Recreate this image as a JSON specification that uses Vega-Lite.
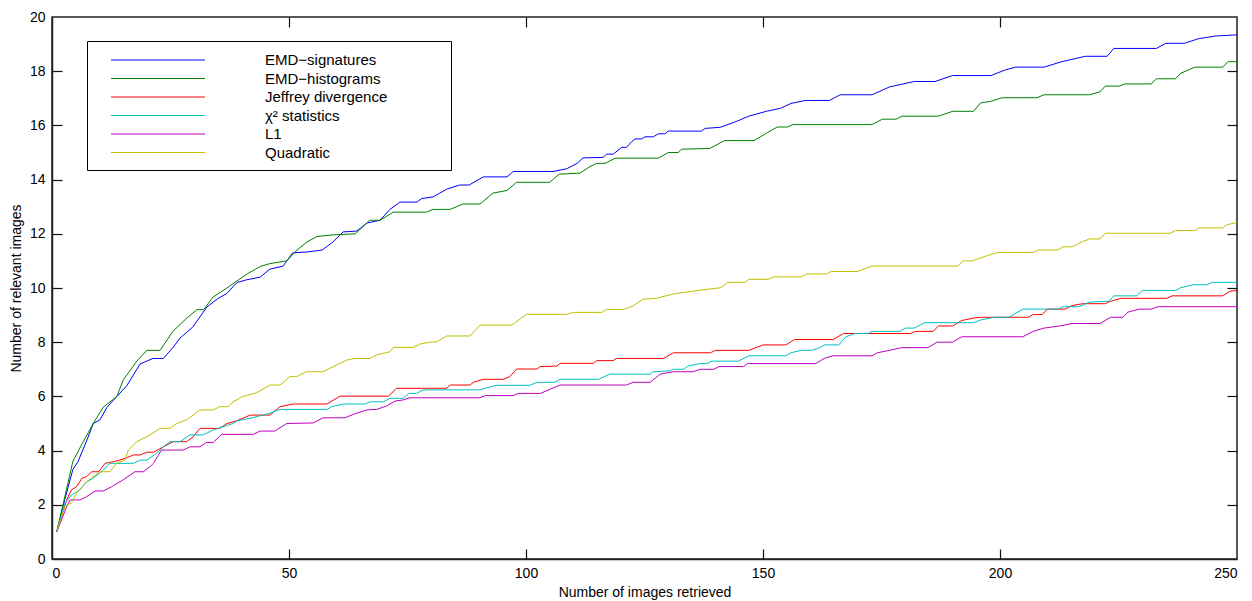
{
  "$schema": "https://vega.github.io/schema/vega-lite/v6.json",
  "width": 1185,
  "height": 542,
  "autosize": {"type": "none"},
  "padding": {"left": 52, "top": 17, "right": 15, "bottom": 42},
  "background": "white",
  "config": {
    "view": {"stroke": "#222222", "strokeWidth": 1.5},
    "font": "Liberation Sans",
    "axis": {"grid": false, "domainColor": "#222222", "domainWidth": 1.5, "tickColor": "#111111", "labelColor": "black", "titleColor": "black", "labelFont": "Liberation Sans", "titleFont": "Liberation Sans", "labelFontSize": 14, "titleFontSize": 14, "titleFontWeight": "normal", "zindex": 1}
  },
  "data": {"values": [
    {"s":"EMD−signatures","x":1,"y":1},{"s":"EMD−signatures","x":2.7,"y":2.2},{"s":"EMD−signatures","x":4.4,"y":3.3},{"s":"EMD−signatures","x":5.5,"y":3.6},{"s":"EMD−signatures","x":7.4,"y":4.4},{"s":"EMD−signatures","x":8.7,"y":5.0},{"s":"EMD−signatures","x":10.1,"y":5.13},{"s":"EMD−signatures","x":11.6,"y":5.6},{"s":"EMD−signatures","x":13.7,"y":6.0},{"s":"EMD−signatures","x":15.8,"y":6.4},{"s":"EMD−signatures","x":18.6,"y":7.2},{"s":"EMD−signatures","x":21.3,"y":7.4},{"s":"EMD−signatures","x":23.5,"y":7.4},{"s":"EMD−signatures","x":25.5,"y":7.8},{"s":"EMD−signatures","x":27,"y":8.15},{"s":"EMD−signatures","x":29.7,"y":8.56},{"s":"EMD−signatures","x":32.7,"y":9.3},{"s":"EMD−signatures","x":34.9,"y":9.6},{"s":"EMD−signatures","x":36.9,"y":9.8},{"s":"EMD−signatures","x":39,"y":10.2},{"s":"EMD−signatures","x":41,"y":10.3},{"s":"EMD−signatures","x":43.9,"y":10.4},{"s":"EMD−signatures","x":46,"y":10.7},{"s":"EMD−signatures","x":48.7,"y":10.8},{"s":"EMD−signatures","x":50.8,"y":11.3},{"s":"EMD−signatures","x":53.8,"y":11.33},{"s":"EMD−signatures","x":57,"y":11.4},{"s":"EMD−signatures","x":59.3,"y":11.7},{"s":"EMD−signatures","x":61.4,"y":12.07},{"s":"EMD−signatures","x":64.3,"y":12.1},{"s":"EMD−signatures","x":66.5,"y":12.4},{"s":"EMD−signatures","x":69.2,"y":12.5},{"s":"EMD−signatures","x":71.3,"y":12.9},{"s":"EMD−signatures","x":73.4,"y":13.17},{"s":"EMD−signatures","x":77,"y":13.17},{"s":"EMD−signatures","x":78,"y":13.3},{"s":"EMD−signatures","x":80.4,"y":13.36},{"s":"EMD−signatures","x":83.3,"y":13.65},{"s":"EMD−signatures","x":86,"y":13.8},{"s":"EMD−signatures","x":88,"y":13.8},{"s":"EMD−signatures","x":91,"y":14.1},{"s":"EMD−signatures","x":96,"y":14.1},{"s":"EMD−signatures","x":97.3,"y":14.3},{"s":"EMD−signatures","x":105.7,"y":14.3},{"s":"EMD−signatures","x":108.6,"y":14.4},{"s":"EMD−signatures","x":110.8,"y":14.6},{"s":"EMD−signatures","x":112,"y":14.8},{"s":"EMD−signatures","x":116.3,"y":14.82},{"s":"EMD−signatures","x":117,"y":14.94},{"s":"EMD−signatures","x":118.4,"y":14.94},{"s":"EMD−signatures","x":120.2,"y":15.19},{"s":"EMD−signatures","x":121.2,"y":15.19},{"s":"EMD−signatures","x":122.3,"y":15.4},{"s":"EMD−signatures","x":123,"y":15.5},{"s":"EMD−signatures","x":124.4,"y":15.5},{"s":"EMD−signatures","x":125.1,"y":15.58},{"s":"EMD−signatures","x":126.9,"y":15.58},{"s":"EMD−signatures","x":127.9,"y":15.69},{"s":"EMD−signatures","x":129.3,"y":15.69},{"s":"EMD−signatures","x":130,"y":15.79},{"s":"EMD−signatures","x":137,"y":15.79},{"s":"EMD−signatures","x":137.8,"y":15.89},{"s":"EMD−signatures","x":141,"y":15.93},{"s":"EMD−signatures","x":144,"y":16.12},{"s":"EMD−signatures","x":147,"y":16.34},{"s":"EMD−signatures","x":150.7,"y":16.52},{"s":"EMD−signatures","x":153.7,"y":16.63},{"s":"EMD−signatures","x":155.9,"y":16.81},{"s":"EMD−signatures","x":158.9,"y":16.92},{"s":"EMD−signatures","x":164,"y":16.92},{"s":"EMD−signatures","x":166.3,"y":17.13},{"s":"EMD−signatures","x":173,"y":17.13},{"s":"EMD−signatures","x":176.7,"y":17.42},{"s":"EMD−signatures","x":181.9,"y":17.62},{"s":"EMD−signatures","x":186.3,"y":17.62},{"s":"EMD−signatures","x":190,"y":17.84},{"s":"EMD−signatures","x":198.1,"y":17.84},{"s":"EMD−signatures","x":201,"y":18.04},{"s":"EMD−signatures","x":203.3,"y":18.15},{"s":"EMD−signatures","x":209.3,"y":18.15},{"s":"EMD−signatures","x":213,"y":18.35},{"s":"EMD−signatures","x":218,"y":18.55},{"s":"EMD−signatures","x":222.6,"y":18.55},{"s":"EMD−signatures","x":224,"y":18.84},{"s":"EMD−signatures","x":233,"y":18.84},{"s":"EMD−signatures","x":235,"y":19.03},{"s":"EMD−signatures","x":238.9,"y":19.03},{"s":"EMD−signatures","x":241.9,"y":19.2},{"s":"EMD−signatures","x":245.6,"y":19.3},{"s":"EMD−signatures","x":250,"y":19.34},

    {"s":"EMD−histograms","x":1,"y":1},{"s":"EMD−histograms","x":2.7,"y":2.3},{"s":"EMD−histograms","x":4.4,"y":3.6},{"s":"EMD−histograms","x":6.5,"y":4.3},{"s":"EMD−histograms","x":8.7,"y":5.0},{"s":"EMD−histograms","x":10.8,"y":5.6},{"s":"EMD−histograms","x":13.7,"y":6.0},{"s":"EMD−histograms","x":15,"y":6.6},{"s":"EMD−histograms","x":17.9,"y":7.3},{"s":"EMD−histograms","x":20,"y":7.7},{"s":"EMD−histograms","x":22.8,"y":7.7},{"s":"EMD−histograms","x":25.5,"y":8.4},{"s":"EMD−histograms","x":28.5,"y":8.9},{"s":"EMD−histograms","x":30.6,"y":9.2},{"s":"EMD−histograms","x":32,"y":9.2},{"s":"EMD−histograms","x":34,"y":9.67},{"s":"EMD−histograms","x":36.9,"y":10.0},{"s":"EMD−histograms","x":41,"y":10.5},{"s":"EMD−histograms","x":44,"y":10.8},{"s":"EMD−histograms","x":46,"y":10.9},{"s":"EMD−histograms","x":49.5,"y":11.0},{"s":"EMD−histograms","x":51.7,"y":11.4},{"s":"EMD−histograms","x":53.8,"y":11.7},{"s":"EMD−histograms","x":55.9,"y":11.9},{"s":"EMD−histograms","x":59.3,"y":11.96},{"s":"EMD−histograms","x":64,"y":12.0},{"s":"EMD−histograms","x":67,"y":12.5},{"s":"EMD−histograms","x":69.2,"y":12.5},{"s":"EMD−histograms","x":72,"y":12.8},{"s":"EMD−histograms","x":79,"y":12.8},{"s":"EMD−histograms","x":80.4,"y":12.9},{"s":"EMD−histograms","x":84,"y":12.9},{"s":"EMD−histograms","x":86.7,"y":13.1},{"s":"EMD−histograms","x":90.3,"y":13.1},{"s":"EMD−histograms","x":93,"y":13.5},{"s":"EMD−histograms","x":96,"y":13.6},{"s":"EMD−histograms","x":98,"y":13.9},{"s":"EMD−histograms","x":105,"y":13.9},{"s":"EMD−histograms","x":107,"y":14.2},{"s":"EMD−histograms","x":111.4,"y":14.24},{"s":"EMD−histograms","x":113.5,"y":14.48},{"s":"EMD−histograms","x":114.9,"y":14.6},{"s":"EMD−histograms","x":116.7,"y":14.6},{"s":"EMD−histograms","x":118.8,"y":14.79},{"s":"EMD−histograms","x":127.9,"y":14.79},{"s":"EMD−histograms","x":130,"y":15.0},{"s":"EMD−histograms","x":132.1,"y":15.0},{"s":"EMD−histograms","x":132.8,"y":15.12},{"s":"EMD−histograms","x":138.8,"y":15.15},{"s":"EMD−histograms","x":141.9,"y":15.44},{"s":"EMD−histograms","x":148.1,"y":15.44},{"s":"EMD−histograms","x":151.1,"y":15.75},{"s":"EMD−histograms","x":153,"y":15.94},{"s":"EMD−histograms","x":155.2,"y":15.94},{"s":"EMD−histograms","x":156.3,"y":16.03},{"s":"EMD−histograms","x":173,"y":16.03},{"s":"EMD−histograms","x":175.2,"y":16.23},{"s":"EMD−histograms","x":178.1,"y":16.23},{"s":"EMD−histograms","x":179.3,"y":16.34},{"s":"EMD−histograms","x":187,"y":16.34},{"s":"EMD−histograms","x":190,"y":16.52},{"s":"EMD−histograms","x":194.4,"y":16.52},{"s":"EMD−histograms","x":195.9,"y":16.83},{"s":"EMD−histograms","x":198.1,"y":16.89},{"s":"EMD−histograms","x":200.4,"y":17.02},{"s":"EMD−histograms","x":207.8,"y":17.02},{"s":"EMD−histograms","x":209.3,"y":17.13},{"s":"EMD−histograms","x":218.9,"y":17.13},{"s":"EMD−histograms","x":221.1,"y":17.24},{"s":"EMD−histograms","x":222.2,"y":17.45},{"s":"EMD−histograms","x":225.2,"y":17.45},{"s":"EMD−histograms","x":226.3,"y":17.53},{"s":"EMD−histograms","x":231.9,"y":17.53},{"s":"EMD−histograms","x":233,"y":17.72},{"s":"EMD−histograms","x":237,"y":17.72},{"s":"EMD−histograms","x":238.1,"y":17.92},{"s":"EMD−histograms","x":241.1,"y":18.15},{"s":"EMD−histograms","x":247,"y":18.15},{"s":"EMD−histograms","x":248.1,"y":18.35},{"s":"EMD−histograms","x":250,"y":18.35},

    {"s":"Jeffrey divergence","x":1,"y":1},{"s":"Jeffrey divergence","x":3.1,"y":2.18},{"s":"Jeffrey divergence","x":4.1,"y":2.55},{"s":"Jeffrey divergence","x":5.2,"y":2.67},{"s":"Jeffrey divergence","x":6.3,"y":2.98},{"s":"Jeffrey divergence","x":7.3,"y":3.04},{"s":"Jeffrey divergence","x":8.4,"y":3.22},{"s":"Jeffrey divergence","x":9.8,"y":3.22},{"s":"Jeffrey divergence","x":11.2,"y":3.53},{"s":"Jeffrey divergence","x":12.9,"y":3.59},{"s":"Jeffrey divergence","x":14.3,"y":3.65},{"s":"Jeffrey divergence","x":15.8,"y":3.74},{"s":"Jeffrey divergence","x":17.2,"y":3.84},{"s":"Jeffrey divergence","x":18.6,"y":3.84},{"s":"Jeffrey divergence","x":20,"y":3.94},{"s":"Jeffrey divergence","x":21.4,"y":3.94},{"s":"Jeffrey divergence","x":23.5,"y":4.14},{"s":"Jeffrey divergence","x":25.6,"y":4.33},{"s":"Jeffrey divergence","x":28.4,"y":4.33},{"s":"Jeffrey divergence","x":29.8,"y":4.51},{"s":"Jeffrey divergence","x":31.2,"y":4.82},{"s":"Jeffrey divergence","x":35.4,"y":4.82},{"s":"Jeffrey divergence","x":36.9,"y":5.0},{"s":"Jeffrey divergence","x":39,"y":5.1},{"s":"Jeffrey divergence","x":41.8,"y":5.31},{"s":"Jeffrey divergence","x":46,"y":5.31},{"s":"Jeffrey divergence","x":48.1,"y":5.62},{"s":"Jeffrey divergence","x":50.9,"y":5.72},{"s":"Jeffrey divergence","x":58,"y":5.72},{"s":"Jeffrey divergence","x":60.8,"y":6.01},{"s":"Jeffrey divergence","x":71,"y":6.01},{"s":"Jeffrey divergence","x":72.7,"y":6.3},{"s":"Jeffrey divergence","x":83.3,"y":6.3},{"s":"Jeffrey divergence","x":84,"y":6.42},{"s":"Jeffrey divergence","x":88.2,"y":6.42},{"s":"Jeffrey divergence","x":88.9,"y":6.52},{"s":"Jeffrey divergence","x":91,"y":6.63},{"s":"Jeffrey divergence","x":95.2,"y":6.63},{"s":"Jeffrey divergence","x":96.6,"y":6.73},{"s":"Jeffrey divergence","x":98,"y":7.01},{"s":"Jeffrey divergence","x":102.3,"y":7.01},{"s":"Jeffrey divergence","x":103,"y":7.1},{"s":"Jeffrey divergence","x":106.5,"y":7.12},{"s":"Jeffrey divergence","x":107.2,"y":7.22},{"s":"Jeffrey divergence","x":114.2,"y":7.22},{"s":"Jeffrey divergence","x":114.9,"y":7.32},{"s":"Jeffrey divergence","x":118.4,"y":7.32},{"s":"Jeffrey divergence","x":119.1,"y":7.4},{"s":"Jeffrey divergence","x":129,"y":7.4},{"s":"Jeffrey divergence","x":131.1,"y":7.61},{"s":"Jeffrey divergence","x":138.9,"y":7.61},{"s":"Jeffrey divergence","x":140,"y":7.7},{"s":"Jeffrey divergence","x":147,"y":7.7},{"s":"Jeffrey divergence","x":148.5,"y":7.8},{"s":"Jeffrey divergence","x":150,"y":7.9},{"s":"Jeffrey divergence","x":154.8,"y":7.9},{"s":"Jeffrey divergence","x":156.7,"y":8.1},{"s":"Jeffrey divergence","x":164.8,"y":8.1},{"s":"Jeffrey divergence","x":167,"y":8.32},{"s":"Jeffrey divergence","x":181.1,"y":8.32},{"s":"Jeffrey divergence","x":182.2,"y":8.4},{"s":"Jeffrey divergence","x":185.9,"y":8.4},{"s":"Jeffrey divergence","x":187,"y":8.6},{"s":"Jeffrey divergence","x":190,"y":8.6},{"s":"Jeffrey divergence","x":191.9,"y":8.8},{"s":"Jeffrey divergence","x":194.4,"y":8.89},{"s":"Jeffrey divergence","x":195.9,"y":8.92},{"s":"Jeffrey divergence","x":205.9,"y":8.92},{"s":"Jeffrey divergence","x":207,"y":9.02},{"s":"Jeffrey divergence","x":208.9,"y":9.02},{"s":"Jeffrey divergence","x":210,"y":9.22},{"s":"Jeffrey divergence","x":213.7,"y":9.22},{"s":"Jeffrey divergence","x":215.2,"y":9.35},{"s":"Jeffrey divergence","x":217.4,"y":9.42},{"s":"Jeffrey divergence","x":222.2,"y":9.42},{"s":"Jeffrey divergence","x":223.3,"y":9.51},{"s":"Jeffrey divergence","x":225.6,"y":9.62},{"s":"Jeffrey divergence","x":235.2,"y":9.62},{"s":"Jeffrey divergence","x":236.3,"y":9.71},{"s":"Jeffrey divergence","x":247,"y":9.71},{"s":"Jeffrey divergence","x":248.5,"y":9.88},{"s":"Jeffrey divergence","x":250,"y":9.91},

    {"s":"χ² statistics","x":1,"y":1},{"s":"χ² statistics","x":2.7,"y":2.05},{"s":"χ² statistics","x":4.1,"y":2.36},{"s":"χ² statistics","x":5.9,"y":2.55},{"s":"χ² statistics","x":7.3,"y":2.85},{"s":"χ² statistics","x":8.7,"y":2.98},{"s":"χ² statistics","x":10.8,"y":3.28},{"s":"χ² statistics","x":12.2,"y":3.53},{"s":"χ² statistics","x":17.2,"y":3.53},{"s":"χ² statistics","x":18.6,"y":3.65},{"s":"χ² statistics","x":20,"y":3.65},{"s":"χ² statistics","x":22.1,"y":3.9},{"s":"χ² statistics","x":23.5,"y":4.14},{"s":"χ² statistics","x":24.9,"y":4.33},{"s":"χ² statistics","x":27,"y":4.33},{"s":"χ² statistics","x":29.1,"y":4.58},{"s":"χ² statistics","x":31.9,"y":4.58},{"s":"χ² statistics","x":34,"y":4.76},{"s":"χ² statistics","x":36.1,"y":4.88},{"s":"χ² statistics","x":38.2,"y":5.0},{"s":"χ² statistics","x":39,"y":5.1},{"s":"χ² statistics","x":41.8,"y":5.19},{"s":"χ² statistics","x":46,"y":5.38},{"s":"χ² statistics","x":48.1,"y":5.52},{"s":"χ² statistics","x":58,"y":5.52},{"s":"χ² statistics","x":59,"y":5.62},{"s":"χ² statistics","x":61.5,"y":5.72},{"s":"χ² statistics","x":66,"y":5.72},{"s":"χ² statistics","x":67.1,"y":5.8},{"s":"χ² statistics","x":69.9,"y":5.8},{"s":"χ² statistics","x":71.3,"y":5.93},{"s":"χ² statistics","x":74.1,"y":5.93},{"s":"χ² statistics","x":75.2,"y":6.11},{"s":"χ² statistics","x":76.9,"y":6.11},{"s":"χ² statistics","x":78.3,"y":6.24},{"s":"χ² statistics","x":90.3,"y":6.24},{"s":"χ² statistics","x":91.7,"y":6.32},{"s":"χ² statistics","x":93.8,"y":6.41},{"s":"χ² statistics","x":100.8,"y":6.41},{"s":"χ² statistics","x":102.3,"y":6.52},{"s":"χ² statistics","x":106.1,"y":6.52},{"s":"χ² statistics","x":107.2,"y":6.63},{"s":"χ² statistics","x":115.3,"y":6.63},{"s":"χ² statistics","x":116.3,"y":6.71},{"s":"χ² statistics","x":117.7,"y":6.82},{"s":"χ² statistics","x":126.2,"y":6.82},{"s":"χ² statistics","x":126.8,"y":6.91},{"s":"χ² statistics","x":130.4,"y":6.94},{"s":"χ² statistics","x":131.1,"y":7.0},{"s":"χ² statistics","x":133.2,"y":7.0},{"s":"χ² statistics","x":134.2,"y":7.12},{"s":"χ² statistics","x":136.7,"y":7.21},{"s":"χ² statistics","x":138.1,"y":7.21},{"s":"χ² statistics","x":139.3,"y":7.3},{"s":"χ² statistics","x":144.8,"y":7.3},{"s":"χ² statistics","x":147,"y":7.5},{"s":"χ² statistics","x":154.8,"y":7.5},{"s":"χ² statistics","x":155.9,"y":7.61},{"s":"χ² statistics","x":158.1,"y":7.7},{"s":"χ² statistics","x":160.4,"y":7.7},{"s":"χ² statistics","x":161.9,"y":7.8},{"s":"χ² statistics","x":163,"y":7.9},{"s":"χ² statistics","x":166,"y":7.9},{"s":"χ² statistics","x":167.4,"y":8.19},{"s":"χ² statistics","x":169.3,"y":8.32},{"s":"χ² statistics","x":172.2,"y":8.32},{"s":"χ² statistics","x":173,"y":8.4},{"s":"χ² statistics","x":178.9,"y":8.4},{"s":"χ² statistics","x":180,"y":8.52},{"s":"χ² statistics","x":181.9,"y":8.52},{"s":"χ² statistics","x":184.1,"y":8.72},{"s":"χ² statistics","x":194.4,"y":8.72},{"s":"χ² statistics","x":195.9,"y":8.82},{"s":"χ² statistics","x":198.9,"y":8.92},{"s":"χ² statistics","x":201.9,"y":8.92},{"s":"χ² statistics","x":204.8,"y":9.22},{"s":"χ² statistics","x":212.2,"y":9.22},{"s":"χ² statistics","x":213.3,"y":9.31},{"s":"χ² statistics","x":216.7,"y":9.31},{"s":"χ² statistics","x":218.1,"y":9.42},{"s":"χ² statistics","x":218.9,"y":9.48},{"s":"χ² statistics","x":223,"y":9.51},{"s":"χ² statistics","x":224,"y":9.71},{"s":"χ² statistics","x":228.9,"y":9.71},{"s":"χ² statistics","x":230,"y":9.91},{"s":"χ² statistics","x":237,"y":9.91},{"s":"χ² statistics","x":238.1,"y":10.01},{"s":"χ² statistics","x":240.7,"y":10.12},{"s":"χ² statistics","x":243.7,"y":10.12},{"s":"χ² statistics","x":244.8,"y":10.21},{"s":"χ² statistics","x":250,"y":10.21},

    {"s":"L1","x":1,"y":1},{"s":"L1","x":3.1,"y":1.93},{"s":"L1","x":3.8,"y":2.18},{"s":"L1","x":5.9,"y":2.18},{"s":"L1","x":7.3,"y":2.3},{"s":"L1","x":9.1,"y":2.51},{"s":"L1","x":10.8,"y":2.51},{"s":"L1","x":12.6,"y":2.67},{"s":"L1","x":15,"y":2.92},{"s":"L1","x":17.5,"y":3.22},{"s":"L1","x":19.3,"y":3.22},{"s":"L1","x":20.7,"y":3.41},{"s":"L1","x":21.4,"y":3.53},{"s":"L1","x":23.1,"y":4.02},{"s":"L1","x":27.7,"y":4.02},{"s":"L1","x":29.1,"y":4.14},{"s":"L1","x":31.2,"y":4.14},{"s":"L1","x":32.6,"y":4.3},{"s":"L1","x":34,"y":4.3},{"s":"L1","x":35.8,"y":4.6},{"s":"L1","x":42.5,"y":4.6},{"s":"L1","x":43.9,"y":4.72},{"s":"L1","x":47,"y":4.72},{"s":"L1","x":49.5,"y":5.0},{"s":"L1","x":55.1,"y":5.02},{"s":"L1","x":57.2,"y":5.21},{"s":"L1","x":61.8,"y":5.21},{"s":"L1","x":63.6,"y":5.34},{"s":"L1","x":66.4,"y":5.5},{"s":"L1","x":68.5,"y":5.52},{"s":"L1","x":70.6,"y":5.65},{"s":"L1","x":72.4,"y":5.83},{"s":"L1","x":74.1,"y":5.87},{"s":"L1","x":75.5,"y":5.95},{"s":"L1","x":90.3,"y":5.95},{"s":"L1","x":91.4,"y":6.03},{"s":"L1","x":97.3,"y":6.03},{"s":"L1","x":98.4,"y":6.11},{"s":"L1","x":103,"y":6.11},{"s":"L1","x":104.4,"y":6.21},{"s":"L1","x":105.8,"y":6.32},{"s":"L1","x":107.2,"y":6.42},{"s":"L1","x":121.2,"y":6.42},{"s":"L1","x":122.6,"y":6.52},{"s":"L1","x":126.2,"y":6.52},{"s":"L1","x":128.3,"y":6.82},{"s":"L1","x":131.1,"y":6.91},{"s":"L1","x":135.3,"y":6.91},{"s":"L1","x":136.7,"y":7.0},{"s":"L1","x":139.6,"y":7.0},{"s":"L1","x":140.7,"y":7.1},{"s":"L1","x":145.9,"y":7.1},{"s":"L1","x":146.7,"y":7.21},{"s":"L1","x":161.1,"y":7.21},{"s":"L1","x":163,"y":7.41},{"s":"L1","x":164.8,"y":7.5},{"s":"L1","x":173,"y":7.5},{"s":"L1","x":174.1,"y":7.61},{"s":"L1","x":176.7,"y":7.7},{"s":"L1","x":179.3,"y":7.8},{"s":"L1","x":184.8,"y":7.8},{"s":"L1","x":186.7,"y":8.0},{"s":"L1","x":190,"y":8.0},{"s":"L1","x":191.9,"y":8.2},{"s":"L1","x":204.8,"y":8.2},{"s":"L1","x":207,"y":8.4},{"s":"L1","x":209.3,"y":8.52},{"s":"L1","x":212.6,"y":8.6},{"s":"L1","x":215.2,"y":8.69},{"s":"L1","x":221.1,"y":8.69},{"s":"L1","x":223.3,"y":8.92},{"s":"L1","x":225.9,"y":8.92},{"s":"L1","x":227,"y":9.11},{"s":"L1","x":229.3,"y":9.22},{"s":"L1","x":231.9,"y":9.22},{"s":"L1","x":233.3,"y":9.31},{"s":"L1","x":250,"y":9.31},

    {"s":"Quadratic","x":1,"y":1},{"s":"Quadratic","x":2.7,"y":1.93},{"s":"Quadratic","x":4.1,"y":2.07},{"s":"Quadratic","x":5.2,"y":2.43},{"s":"Quadratic","x":7.3,"y":2.85},{"s":"Quadratic","x":10.1,"y":3.22},{"s":"Quadratic","x":12.2,"y":3.22},{"s":"Quadratic","x":13.6,"y":3.53},{"s":"Quadratic","x":15.4,"y":3.65},{"s":"Quadratic","x":16.1,"y":4.02},{"s":"Quadratic","x":17.9,"y":4.33},{"s":"Quadratic","x":20.7,"y":4.58},{"s":"Quadratic","x":22.8,"y":4.82},{"s":"Quadratic","x":24.9,"y":4.82},{"s":"Quadratic","x":26.3,"y":5.0},{"s":"Quadratic","x":28.4,"y":5.13},{"s":"Quadratic","x":31.2,"y":5.5},{"s":"Quadratic","x":34,"y":5.5},{"s":"Quadratic","x":35.4,"y":5.62},{"s":"Quadratic","x":37.1,"y":5.62},{"s":"Quadratic","x":38.2,"y":5.8},{"s":"Quadratic","x":40.3,"y":6.0},{"s":"Quadratic","x":43.2,"y":6.14},{"s":"Quadratic","x":46,"y":6.42},{"s":"Quadratic","x":48.1,"y":6.42},{"s":"Quadratic","x":50.2,"y":6.73},{"s":"Quadratic","x":51.6,"y":6.73},{"s":"Quadratic","x":53.7,"y":6.91},{"s":"Quadratic","x":57.2,"y":6.91},{"s":"Quadratic","x":59.3,"y":7.1},{"s":"Quadratic","x":62.2,"y":7.34},{"s":"Quadratic","x":63.9,"y":7.4},{"s":"Quadratic","x":67.1,"y":7.4},{"s":"Quadratic","x":68.5,"y":7.53},{"s":"Quadratic","x":71.3,"y":7.65},{"s":"Quadratic","x":72,"y":7.81},{"s":"Quadratic","x":76.2,"y":7.81},{"s":"Quadratic","x":77.6,"y":7.93},{"s":"Quadratic","x":79.7,"y":8.0},{"s":"Quadratic","x":81.2,"y":8.02},{"s":"Quadratic","x":83.3,"y":8.23},{"s":"Quadratic","x":88.2,"y":8.23},{"s":"Quadratic","x":90.3,"y":8.63},{"s":"Quadratic","x":97,"y":8.63},{"s":"Quadratic","x":100.1,"y":9.03},{"s":"Quadratic","x":108.6,"y":9.03},{"s":"Quadratic","x":110,"y":9.1},{"s":"Quadratic","x":116,"y":9.1},{"s":"Quadratic","x":117,"y":9.21},{"s":"Quadratic","x":120.5,"y":9.21},{"s":"Quadratic","x":122.6,"y":9.34},{"s":"Quadratic","x":124.7,"y":9.59},{"s":"Quadratic","x":127.6,"y":9.62},{"s":"Quadratic","x":129.7,"y":9.72},{"s":"Quadratic","x":131.8,"y":9.8},{"s":"Quadratic","x":136.7,"y":9.92},{"s":"Quadratic","x":141.1,"y":10.01},{"s":"Quadratic","x":142.6,"y":10.21},{"s":"Quadratic","x":146.3,"y":10.21},{"s":"Quadratic","x":147,"y":10.32},{"s":"Quadratic","x":151.1,"y":10.32},{"s":"Quadratic","x":152.2,"y":10.41},{"s":"Quadratic","x":158.1,"y":10.41},{"s":"Quadratic","x":159.3,"y":10.52},{"s":"Quadratic","x":163.3,"y":10.52},{"s":"Quadratic","x":164.4,"y":10.61},{"s":"Quadratic","x":170,"y":10.61},{"s":"Quadratic","x":173,"y":10.81},{"s":"Quadratic","x":191.1,"y":10.81},{"s":"Quadratic","x":192.2,"y":11.0},{"s":"Quadratic","x":194.1,"y":11.0},{"s":"Quadratic","x":195.9,"y":11.11},{"s":"Quadratic","x":197.4,"y":11.2},{"s":"Quadratic","x":199.6,"y":11.31},{"s":"Quadratic","x":207,"y":11.31},{"s":"Quadratic","x":208.1,"y":11.4},{"s":"Quadratic","x":212.2,"y":11.4},{"s":"Quadratic","x":213.3,"y":11.52},{"s":"Quadratic","x":215.2,"y":11.52},{"s":"Quadratic","x":217.4,"y":11.71},{"s":"Quadratic","x":218.9,"y":11.81},{"s":"Quadratic","x":221.1,"y":11.81},{"s":"Quadratic","x":222.2,"y":12.02},{"s":"Quadratic","x":235.9,"y":12.02},{"s":"Quadratic","x":237,"y":12.12},{"s":"Quadratic","x":241.1,"y":12.12},{"s":"Quadratic","x":241.9,"y":12.22},{"s":"Quadratic","x":247,"y":12.22},{"s":"Quadratic","x":247.8,"y":12.33},{"s":"Quadratic","x":250,"y":12.42}
  ]},
  "layer": [
    {
      "mark": {"type": "line", "strokeWidth": 1, "clip": true},
      "encoding": {
        "x": {"field": "x", "type": "quantitative", "scale": {"domain": [0, 250], "nice": false}, "axis": {"values": [0, 50, 100, 150, 200, 250], "title": "Number of images retrieved", "ticks": false, "tickSize": 0, "labelPadding": 7, "titlePadding": 5}},
        "y": {"field": "y", "type": "quantitative", "scale": {"domain": [0, 20], "nice": false}, "axis": {"values": [0, 2, 4, 6, 8, 10, 12, 14, 16, 18, 20], "title": "Number of relevant images", "ticks": false, "tickSize": 0, "labelPadding": 7, "titlePadding": 6}},
        "color": {"field": "s", "type": "nominal",
          "scale": {"domain": ["EMD−signatures", "EMD−histograms", "Jeffrey divergence", "χ² statistics", "L1", "Quadratic"], "range": ["#0000ff", "#008000", "#ff0000", "#00bfbf", "#bf00bf", "#bfbf00"]},
          "legend": {"orient": "none", "legendX": 35, "legendY": 24, "title": null, "symbolType": "M-5,0H5", "symbolSize": 353, "symbolStrokeWidth": 1, "symbolOffset": 52, "labelFontSize": 15, "labelFont": "Liberation Sans", "labelColor": "black", "labelOffset": 97, "labelLimit": 400, "strokeColor": "black", "fillColor": "white", "padding": 9, "rowPadding": 0.5, "labelExpr": "datum.label + '\u00a0\u00a0\u00a0\u00a0\u00a0\u00a0\u00a0\u00a0\u00a0\u00a0\u00a0\u00a0\u00a0\u200b'"}
        }
      }
    },
    {
      "mark": {"type": "line", "opacity": 0},
      "encoding": {
        "x": {"field": "x", "type": "quantitative", "axis": {"orient": "top", "offset": -542, "values": [50, 100, 150, 200], "labels": false, "title": null, "domain": false, "ticks": true, "tickSize": 10, "tickWidth": 1.2}},
        "y": {"field": "y", "type": "quantitative", "axis": {"orient": "right", "offset": -1185, "values": [2, 4, 6, 8, 10, 12, 14, 16, 18], "labels": false, "title": null, "domain": false, "ticks": true, "tickSize": 10, "tickWidth": 1.2}},
        "detail": {"field": "s"}
      }
    },
    {
      "mark": {"type": "line", "opacity": 0},
      "encoding": {
        "x": {"field": "x", "type": "quantitative", "axis": {"orient": "top", "values": [50, 100, 150, 200], "labels": false, "title": null, "domain": false, "ticks": true, "tickSize": -10, "tickWidth": 1.2}},
        "y": {"field": "y", "type": "quantitative", "axis": {"orient": "right", "values": [2, 4, 6, 8, 10, 12, 14, 16, 18], "labels": false, "title": null, "domain": false, "ticks": true, "tickSize": -10, "tickWidth": 1.2}},
        "detail": {"field": "s"}
      }
    }
  ],
  "resolve": {"axis": {"x": "independent", "y": "independent"}}
}
